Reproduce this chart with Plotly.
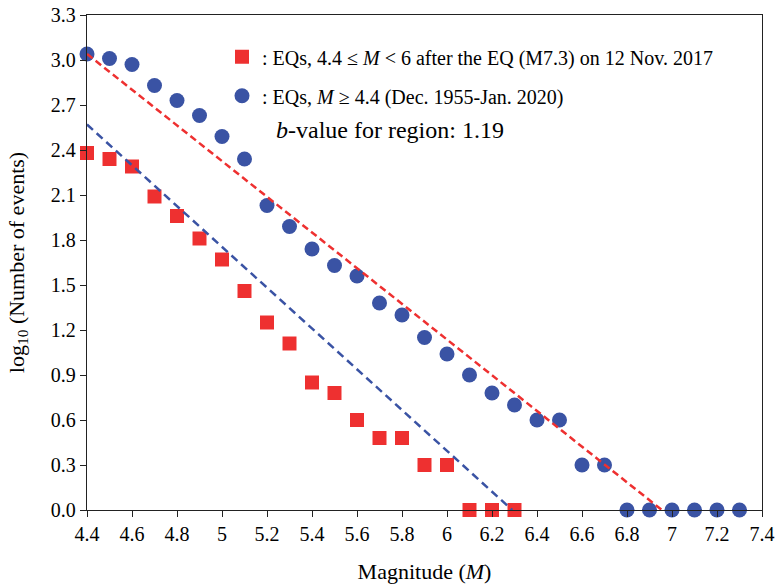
import plotly.graph_objects as go

# Data
mag_blue = [4.4, 4.5, 4.6, 4.7, 4.8, 4.9, 5.0, 5.1, 5.2, 5.3, 5.4, 5.5, 5.6, 5.7, 5.8,
            5.9, 6.0, 6.1, 6.2, 6.3, 6.4, 6.5, 6.6, 6.7, 6.8, 6.9, 7.0, 7.1, 7.2, 7.3]
log_blue = [3.04, 3.01, 2.97, 2.83, 2.73, 2.63, 2.49, 2.34, 2.03, 1.89, 1.74, 1.63, 1.56, 1.38, 1.30,
            1.15, 1.04, 0.90, 0.78, 0.70, 0.60, 0.60, 0.30, 0.30, 0.0, 0.0, 0.0, 0.0, 0.0, 0.0]

mag_red = [4.4, 4.5, 4.6, 4.7, 4.8, 4.9, 5.0, 5.1, 5.2, 5.3, 5.4, 5.5, 5.6, 5.7, 5.8,
           5.9, 6.0, 6.1, 6.2, 6.3]
log_red = [2.38, 2.34, 2.29, 2.09, 1.96, 1.81, 1.67, 1.46, 1.25, 1.11, 0.85, 0.78, 0.60, 0.48, 0.48,
           0.30, 0.30, 0.0, 0.0, 0.0]

fit_red_x = [4.4, 6.955]
fit_red_y = [3.04, 0.0]
fit_blue_x = [4.4, 6.29]
fit_blue_y = [2.57, 0.0]

x_tickvals = [4.4, 4.6, 4.8, 5.0, 5.2, 5.4, 5.6, 5.8, 6.0, 6.2, 6.4, 6.6, 6.8, 7.0, 7.2, 7.4]
x_ticktext = ["4.4", "4.6", "4.8", "5", "5.2", "5.4", "5.6", "5.8", "6", "6.2", "6.4", "6.6",
              "6.8", "7", "7.2", "7.4"]
y_tickvals = [0.0, 0.3, 0.6, 0.9, 1.2, 1.5, 1.8, 2.1, 2.4, 2.7, 3.0, 3.3]
y_ticktext = ["0.0", "0.3", "0.6", "0.9", "1.2", "1.5", "1.8", "2.1", "2.4", "2.7", "3.0", "3.3"]

RED = "#EE3030"
BLUE = "#3A53A4"
FONT = "Liberation Serif"

fig = go.Figure()

fig.add_trace(go.Scatter(x=mag_red, y=log_red, mode="markers", legendgroup="a",
                         name=": EQs, 4.4 ≤ <i>M</i> < 6 after the EQ (M7.3) on 12 Nov. 2017",
                         marker=dict(symbol="square", size=14, color=RED), cliponaxis=False))
fig.add_trace(go.Scatter(x=mag_blue, y=log_blue, mode="markers", legendgroup="b",
                         name=": EQs, <i>M</i> ≥ 4.4 (Dec. 1955-Jan. 2020)",
                         marker=dict(symbol="circle", size=15, color=BLUE), cliponaxis=False))

fig.add_trace(go.Scatter(x=fit_red_x, y=fit_red_y, mode="lines", showlegend=False,
                         line=dict(color=RED, width=2.5, dash="7px,4px"), cliponaxis=False))
fig.add_trace(go.Scatter(x=fit_blue_x, y=fit_blue_y, mode="lines", showlegend=False,
                         line=dict(color=BLUE, width=2.5, dash="8px,5px"), cliponaxis=False))

fig.add_annotation(text="<i>b</i>-value for region: 1.19", xref="paper", yref="paper",
                   x=0.277, y=0.768, xanchor="left", yanchor="middle", showarrow=False,
                   font=dict(family=FONT, size=24, color="black"))

fig.update_layout(
    width=781, height=587,
    margin=dict(l=87, r=19, t=15, b=77),
    paper_bgcolor="white", plot_bgcolor="white",
    font=dict(family=FONT, size=20, color="black"),
    legend=dict(x=0.2, y=0.955, xanchor="left", yanchor="top", bgcolor="rgba(0,0,0,0)",
                traceorder="grouped", tracegroupgap=10, itemwidth=30,
                font=dict(family=FONT, size=20, color="black")),
    xaxis=dict(range=[4.4, 7.4], tickvals=x_tickvals, ticktext=x_ticktext, automargin=False,
               showgrid=False, zeroline=False, showline=True, linecolor="#222222", linewidth=1.3,
               mirror=True, ticks="outside", ticklen=6, tickcolor="#222222",
               tickfont=dict(family=FONT, size=20),
               title=dict(text="Magnitude (<i>M</i>)", font=dict(family=FONT, size=22), standoff=19)),
    yaxis=dict(range=[0, 3.3], tickvals=y_tickvals, ticktext=y_ticktext, automargin=False,
               showgrid=False, zeroline=False, showline=True, linecolor="#222222", linewidth=1.3,
               mirror=True, ticks="outside", ticklen=6, tickcolor="#222222",
               tickfont=dict(family=FONT, size=20),
               title=dict(text="log<sub>10</sub> (Number of events)", font=dict(family=FONT, size=22),
                          standoff=20)),
)

fig.write_html("out.html", config={"displayModeBar": False},
               post_script="document.body.style.margin='0px';")
